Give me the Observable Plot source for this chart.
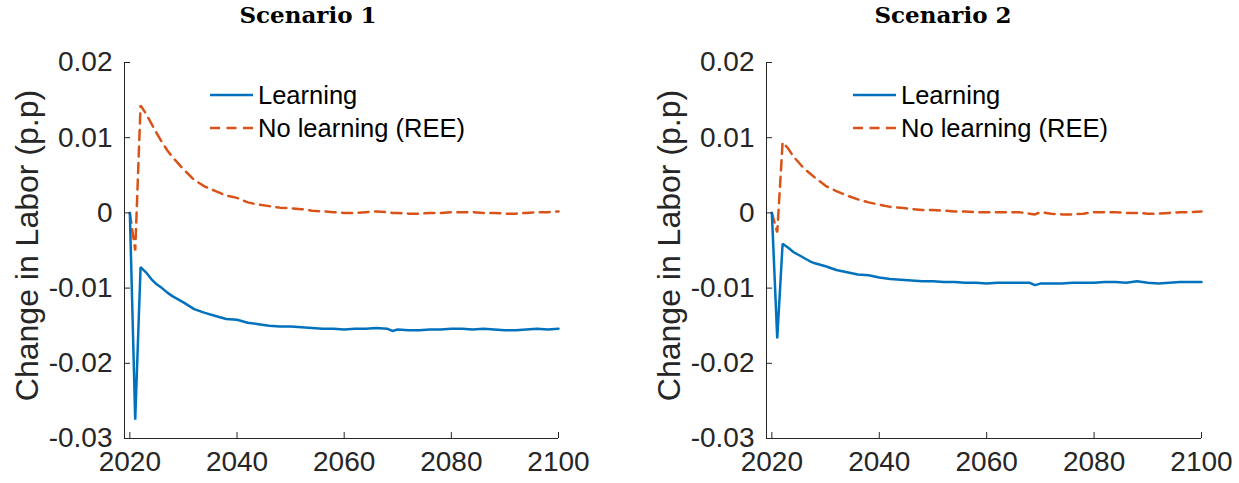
<!DOCTYPE html>
<html>
<head>
<meta charset="utf-8">
<script src="https://cdn.jsdelivr.net/npm/d3@7"></script>
<script src="https://cdn.jsdelivr.net/npm/@observablehq/plot@0.6"></script>
<style>
  html, body { margin: 0; padding: 0; background: #fff; }
  #wrap { position: relative; width: 1239px; height: 483px; overflow: hidden; font-family: "Liberation Sans", Arial, sans-serif; }
  .panel { position: absolute; top: 0; }
  .title { position: absolute; top: 1px; font-family: "DejaVu Serif", "Liberation Serif", serif; font-weight: bold; font-size: 23px; color: #000; transform: translateX(-50%); white-space: nowrap; }
  .legend { position: absolute; font-size: 25.5px; color: #000; }
  .legend .row { position: absolute; left: 0; display: flex; align-items: center; white-space: nowrap; }
</style>
</head>
<body>
<div id="wrap"></div>
<script>
// ---- data ----
const years = [2020,2021,2022,2023,2024,2025,2026,2027,2028,2030,2032,2034,2036,2038,2040,2042,2044,2046,2048,2050,2052,2054,2056,2058,2060,2062,2064,2066,2068,2069,2070,2072,2074,2076,2078,2080,2082,2084,2086,2088,2090,2092,2094,2096,2098,2100];

const s1Learning = [0,-0.0275,-0.0072,-0.0079,-0.0088,-0.0095,-0.0100,-0.0106,-0.0111,-0.0119,-0.0128,-0.0133,-0.0137,-0.0141,-0.0142,-0.0146,-0.0148,-0.0150,-0.0151,-0.0151,-0.0152,-0.0153,-0.0154,-0.0154,-0.0155,-0.0154,-0.0154,-0.0153,-0.0154,-0.0157,-0.0155,-0.0156,-0.0156,-0.0155,-0.0155,-0.0154,-0.0154,-0.0155,-0.0154,-0.0155,-0.0156,-0.0156,-0.0155,-0.0154,-0.0155,-0.0154];
const s1NoLearning = [0,-0.0050,0.0143,0.0132,0.0119,0.0106,0.0094,0.0083,0.0074,0.0058,0.0044,0.0035,0.0029,0.0023,0.0020,0.0014,0.0011,0.0009,0.0007,0.0006,0.0005,0.0003,0.0002,0.0001,0.0000,0.0000,0.0001,0.0002,0.0001,0.0000,0.0000,-0.0001,-0.0001,0.0000,0.0000,0.0001,0.0001,0.0001,0.0000,0.0000,-0.0001,-0.0001,0.0000,0.0001,0.0001,0.0002];
const s2Learning = [0,-0.0167,-0.0041,-0.0046,-0.0052,-0.0056,-0.0060,-0.0064,-0.0067,-0.0071,-0.0076,-0.0079,-0.0082,-0.0083,-0.0086,-0.0088,-0.0089,-0.0090,-0.0091,-0.0091,-0.0092,-0.0092,-0.0093,-0.0093,-0.0094,-0.0093,-0.0093,-0.0093,-0.0093,-0.0096,-0.0094,-0.0094,-0.0094,-0.0093,-0.0093,-0.0093,-0.0092,-0.0092,-0.0093,-0.0091,-0.0093,-0.0094,-0.0093,-0.0092,-0.0092,-0.0092];
const s2NoLearning = [0,-0.0026,0.0094,0.0086,0.0075,0.0067,0.0059,0.0053,0.0047,0.0036,0.0029,0.0023,0.0018,0.0014,0.0011,0.0008,0.0007,0.0005,0.0004,0.0004,0.0003,0.0002,0.0002,0.0001,0.0001,0.0001,0.0001,0.0001,-0.0001,-0.0002,0.0001,-0.0001,-0.0002,-0.0002,-0.0001,0.0001,0.0001,0.0001,0.0000,0.0000,-0.0001,-0.0001,0.0000,0.0001,0.0001,0.0002];

const xTicks = [2020, 2040, 2060, 2080, 2100];
const yTicks = [0.02, 0.01, 0, -0.01, -0.02, -0.03];
const titles = ["Scenario 1", "Scenario 2"];
const seriesNames = ["Learning", "No learning (REE)"];
const yLabel = "Change in Labor (p.p)";

const BLUE = "#0072BD", ORANGE = "#D95319", AX = "#262626";

function rows(vals) { return years.map((y, i) => ({year: y, value: vals[i]})); }

function panel(learn, noLearn, opts) {
  return Plot.plot({
    width: opts.width,
    height: 483,
    marginLeft: opts.marginLeft,
    marginRight: opts.marginRight,
    marginTop: 62,
    marginBottom: 45,
    style: {fontFamily: "'Liberation Sans', Arial, sans-serif", background: "transparent", overflow: "visible"},
    x: {domain: [2019, 2100]},
    y: {domain: [-0.03, 0.02]},
    marks: [
      Plot.line(rows(noLearn), {x: "year", y: "value", stroke: ORANGE, strokeWidth: 2.5, strokeDasharray: "10,6.5", strokeLinejoin: "miter"}),
      Plot.line(rows(learn), {x: "year", y: "value", stroke: BLUE, strokeWidth: 2.5, strokeLinejoin: "miter"}),
      Plot.ruleX([2019], {stroke: AX, strokeWidth: 1}),
      Plot.ruleY([-0.03], {stroke: AX, strokeWidth: 1}),
      Plot.axisY({ticks: yTicks, tickSize: -6, tickPadding: 18, stroke: AX, color: AX, fontSize: 28, label: null,
        tickFormat: d => d === 0 ? "0" : d.toFixed(2)}),
      Plot.axisX({ticks: xTicks, tickSize: -6, tickPadding: 19, stroke: AX, color: AX, fontSize: 28, label: null,
        tickFormat: d => String(d)}),
      Plot.text([yLabel], {text: d => d, frameAnchor: "left", rotate: -90, dx: -97, dy: -5, fontSize: 32, fill: AX, textAnchor: "middle", lineAnchor: "middle"})
    ]
  });
}

const wrap = document.getElementById("wrap");
const cfg = [
  {left: 0, width: 620, marginLeft: 124, marginRight: 62, data: [s1Learning, s1NoLearning], titleX: 308, legX: 210},
  {left: 620, width: 619, marginLeft: 146, marginRight: 38, data: [s2Learning, s2NoLearning], titleX: 943, legX: 853}
];
cfg.forEach((c, i) => {
  const div = document.createElement("div");
  div.className = "panel";
  div.style.left = c.left + "px";
  div.appendChild(panel(c.data[0], c.data[1], c));
  wrap.appendChild(div);

  const t = document.createElement("div");
  t.className = "title";
  t.style.left = c.titleX + "px";
  t.textContent = titles[i];
  wrap.appendChild(t);

  const leg = document.createElement("div");
  leg.className = "legend";
  leg.style.left = c.legX + "px";
  leg.style.top = "0px";
  [[BLUE, null, 95], [ORANGE, "10,6.5", 128]].forEach(([col, dash, yc], k) => {
    const row = document.createElement("div");
    row.className = "row";
    row.style.top = (yc - 15) + "px";
    row.style.height = "30px";
    row.innerHTML = `<svg width="48" height="30" style="display:block"><line x1="0" y1="15" x2="43" y2="15" stroke="${col}" stroke-width="2.5" ${dash ? `stroke-dasharray="${dash}"` : ""}/></svg><span>${seriesNames[k]}</span>`;
    leg.appendChild(row);
  });
  wrap.appendChild(leg);
});
</script>
</body>
</html>
